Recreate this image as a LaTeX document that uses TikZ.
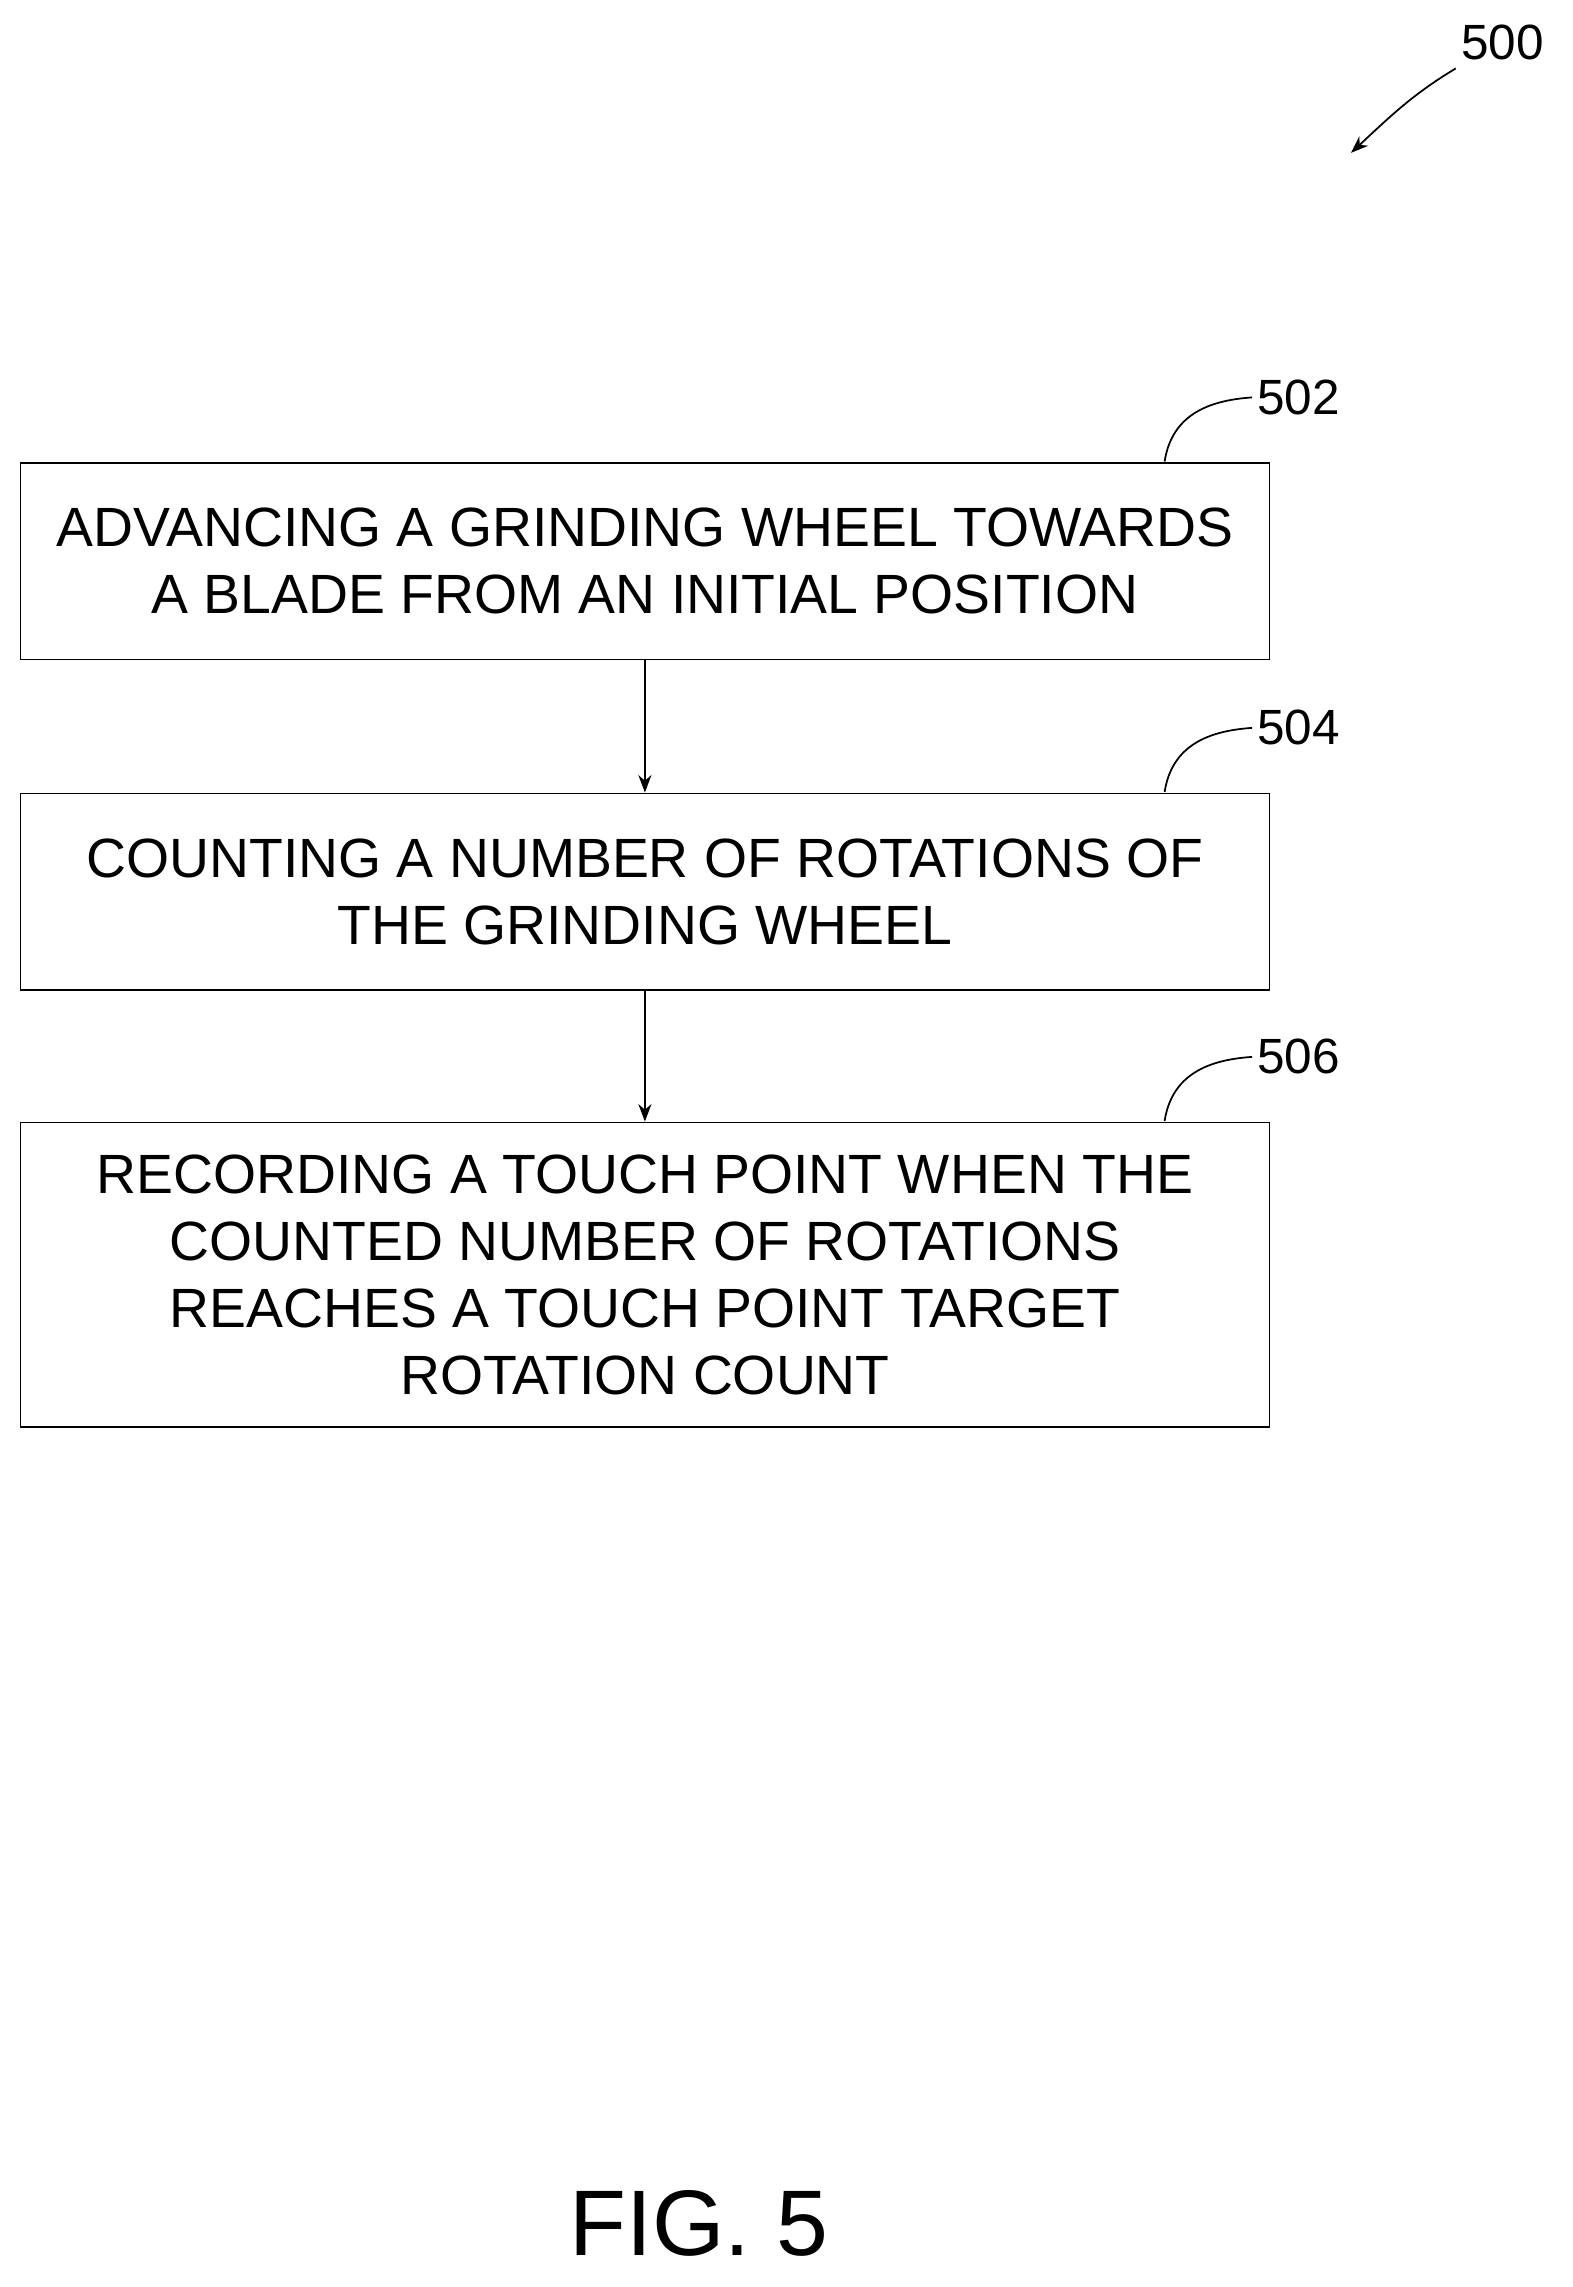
\documentclass[tikz,border=0pt]{standalone}
\usepackage{fontspec}
\setmainfont{Liberation Sans}
\usetikzlibrary{arrows.meta}
\begin{document}
\begin{tikzpicture}[x=1pt,y=-1pt,
  box/.style={draw,line width=1.2pt,minimum width=858pt,align=center,font=\fontsize{38}{46}\selectfont,inner sep=0pt},
  lab/.style={font=\fontsize{34}{38}\selectfont},
  arr/.style={-{Stealth[length=12pt,width=9pt]},line width=1.2pt}]
\useasboundingbox (0,0) rectangle (1080,1571);
\node[box,minimum height=135pt] (b1) at (443,385.5) {ADVANCING A GRINDING WHEEL TOWARDS\\A BLADE FROM AN INITIAL POSITION};
\node[box,minimum height=135pt] (b2) at (443,612.5) {COUNTING A NUMBER OF ROTATIONS OF\\THE GRINDING WHEEL};
\node[box,minimum height=209pt] (b3) at (443,875.5) {RECORDING A TOUCH POINT WHEN THE\\COUNTED NUMBER OF ROTATIONS\\REACHES A TOUCH POINT TARGET\\ROTATION COUNT};
\draw[arr] (b1) -- (b2);
\draw[arr] (b2) -- (b3);
\node[lab] (l2) at (892,273) {502};
\node[lab] (l4) at (892,500) {504};
\node[lab] (l6) at (892,726) {506};
\draw[line width=1.2pt] (800,317) .. controls (805,285) and (830,275) .. (l2.west);
\draw[line width=1.2pt] (800,544) .. controls (805,512) and (830,502) .. (l4.west);
\draw[line width=1.2pt] (800,770) .. controls (805,738) and (830,728) .. (l6.west);
\node[lab] (l0) at (1032,29) {500};
\coordinate (a0) at (928,105);
\draw[arr] (1000,47) .. controls (970,65) and (955,80) .. (a0);
\node[font=\fontsize{64}{70}\selectfont] (fig) at (480,1527) {FIG. 5};
\end{tikzpicture}
\end{document}
